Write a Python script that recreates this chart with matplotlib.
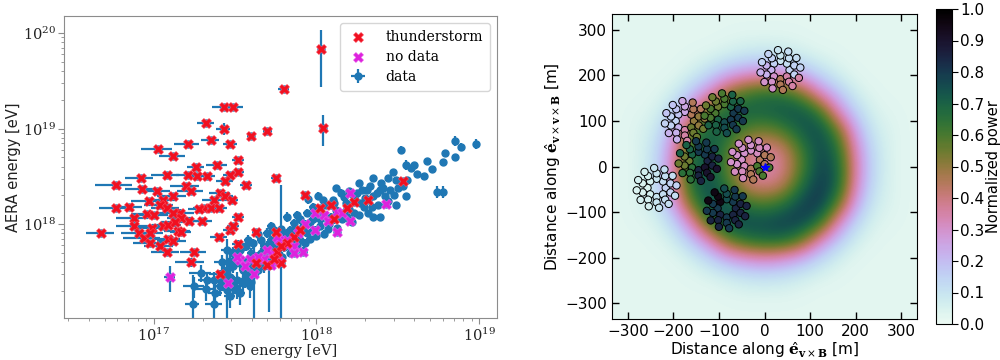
import numpy as np
import matplotlib
matplotlib.use("Agg")
import matplotlib.pyplot as plt
from matplotlib.colors import ListedColormap

plt.rcParams['mathtext.fontset'] = 'dejavuserif'

# ---------------- left panel: log10(energy / eV) ----------------
thunder_log_sd = [18.03, 17.80, 18.04, 17.43, 17.49, 17.32, 17.43, 17.35, 17.60, 17.70,
                  17.21, 17.47, 17.03, 17.12, 17.52, 17.39, 17.26, 17.52, 17.08, 16.92,
                  17.21, 17.27, 17.33, 17.47, 17.75, 17.44, 16.77, 17.57, 17.20, 16.93,
                  17.02, 17.23, 17.41, 17.93, 17.44, 17.12, 17.06, 16.97, 17.37, 17.48,
                  17.31, 17.35, 17.40, 17.04, 17.08, 16.77, 16.85, 17.16, 17.28, 17.52,
                  16.96, 17.00, 16.88, 17.12, 17.17, 17.22, 17.30, 16.88, 16.99, 17.06,
                  17.09, 17.13, 16.68, 16.91, 16.94, 16.98, 17.15, 17.17, 17.09, 17.12,
                  17.40, 17.47, 17.49, 17.63, 16.98, 17.04, 17.52, 17.08, 17.25, 17.23,
                  17.41, 17.75, 17.63, 17.70, 17.78, 18.53, 18.32, 18.23, 18.02, 18.09,
                  18.19, 18.11, 17.86, 17.82, 17.90, 17.76, 17.78, 17.74]
thunder_log_aera = [19.83, 19.41, 19.01, 19.23, 19.23, 19.06, 19.00, 18.88, 18.92, 18.98,
                    18.84, 18.84, 18.79, 18.71, 18.67, 18.62, 18.60, 18.55, 18.51, 18.48,
                    18.51, 18.50, 18.50, 18.51, 18.48, 18.45, 18.41, 18.41, 18.40, 18.37,
                    18.35, 18.35, 18.33, 18.31, 18.29, 18.29, 18.25, 18.24, 18.25, 18.25,
                    18.17, 18.17, 18.17, 18.20, 18.17, 18.17, 18.18, 18.12, 18.16, 18.08,
                    18.11, 18.10, 18.06, 18.12, 18.06, 18.03, 18.03, 17.98, 17.96, 17.98,
                    17.99, 18.02, 17.91, 17.91, 17.86, 17.91, 17.93, 17.92, 17.85, 17.82,
                    17.87, 17.94, 17.98, 17.92, 17.80, 17.77, 17.79, 17.71, 17.71, 17.60,
                    17.48, 17.92, 17.59, 17.57, 17.59, 18.45, 18.25, 18.23, 18.17, 18.20,
                    18.17, 18.05, 17.87, 17.80, 17.94, 17.71, 17.77, 17.64]
thunder_sd_relerr = [.03, .08, .03, .15, .15, .12, .10, .12, .06, .06,
                     .18, .10, .22, .18, .08, .15, .12, .08, .20, .20,
                     .15, .12, .12, .10, .06, .12, .26, .08, .20, .22,
                     .20, .18, .15, .04, .12, .20, .20, .22, .15, .10,
                     .15, .15, .12, .20, .20, .22, .20, .22, .15, .08,
                     .20, .22, .22, .20, .18, .15, .15, .22, .25, .20,
                     .20, .18, .20, .22, .25, .20, .18, .15, .18, .20,
                     .12, .10, .08, .06, .22, .20, .08, .20, .18, .20,
                     .15, .06, .06, .06, .05, .04, .04, .04, .05, .05,
                     .04, .05, .05, .05, .04, .06, .05, .06]
thunder_aera_relerr = [.60, .05, .35, .05, .05, .05, .15, .05, .05, .05,
                       .06, .06, .05, .06, .08, .06, .06, .06, .06, .06,
                       .08, .06, .06, .06, .06, .06, .05, .08, .06, .06,
                       .06, .06, .06, .06, .06, .08, .06, .06, .06, .06,
                       .08, .08, .08, .06, .06, .06, .06, .10, .06, .06,
                       .06, .06, .06, .08, .08, .08, .06, .06, .06, .06,
                       .06, .06, .05, .06, .06, .06, .08, .08, .06, .06,
                       .06, .06, .08, .08, .06, .06, .10, .06, .08, .10,
                       .10, .08, .10, .10, .10, .06, .06, .06, .08, .08,
                       .08, .10, .10, .10, .08, .10, .10, .10]

nodata_log_sd = [17.10, 17.46, 17.62, 18.43, 18.21, 18.21, 18.13, 18.13, 18.05, 17.99,
                 17.93, 17.92, 17.86, 17.82, 17.77, 17.73, 17.70, 17.68, 17.64, 17.59,
                 17.53, 17.51, 17.77, 17.76, 17.82, 17.86, 17.99, 18.16, 18.07, 17.89,
                 17.56, 17.72]
nodata_log_aera = [17.45, 17.38, 17.48, 18.21, 18.33, 18.03, 18.13, 17.92, 18.10, 17.94,
                   18.00, 17.71, 17.77, 17.84, 17.84, 17.70, 17.73, 17.64, 17.66, 17.64,
                   17.63, 17.66, 17.61, 17.87, 17.78, 17.70, 18.12, 18.12, 18.03, 17.91,
                   17.56, 17.57]
nodata_sd_relerr = [.08, .06, .06, .04, .04, .04, .04, .04, .04, .05,
                    .05, .05, .05, .05, .05, .05, .06, .06, .06, .06,
                    .06, .06, .05, .05, .05, .05, .05, .04, .04, .05,
                    .06, .05]
nodata_aera_relerr = [.30, .15, .15, .08, .10, .08, .08, .08, .08, .10,
                      .10, .10, .10, .10, .10, .10, .12, .12, .12, .12,
                      .12, .12, .10, .10, .10, .10, .08, .08, .08, .10,
                      .12, .10]

data_log_sd = [18.52, 18.85, 18.89, 18.98, 18.79, 18.85, 18.78, 18.68, 18.71, 18.62,
               18.55, 18.58, 18.56, 18.49, 18.45, 18.55, 18.49, 18.74, 18.78, 18.35,
               18.39, 18.35, 18.39, 18.31, 18.26, 18.23, 18.15, 18.10, 18.04, 18.29,
               18.35, 18.27, 18.18, 18.23, 18.16, 18.09, 18.02, 17.98, 17.98, 17.94,
               17.90, 17.86, 17.82, 17.84, 17.80, 17.74, 17.70, 17.66, 17.61, 17.57,
               17.53, 17.49, 17.53, 17.49, 17.45, 17.47, 17.51, 17.57, 17.61, 17.66,
               17.70, 17.76, 17.82, 17.86, 17.90, 17.94, 17.98, 18.02, 17.74, 17.68,
               17.64, 17.59, 17.55, 17.49, 17.51, 17.45, 17.41, 17.37, 17.29, 17.25,
               17.24, 17.37, 17.33, 17.53, 17.59, 17.45, 17.78, 17.71, 17.62, 17.45,
               18.00, 18.06, 18.12, 18.20, 18.25, 18.30, 18.40, 18.44, 18.47, 18.42,
               18.33, 17.92, 17.88, 17.78, 17.72, 17.68, 17.63, 17.58, 17.55, 17.60,
               17.96, 17.88, 18.08, 18.14, 18.20, 18.24, 17.42, 17.38, 17.32, 17.47,
               18.13, 18.05, 17.93, 17.84, 17.74, 17.67, 18.38, 18.50, 18.60, 18.66,
               17.72, 17.76, 17.80, 17.84, 17.88, 17.92, 17.96, 18.00, 18.04, 18.07,
               18.11, 18.17, 18.19, 18.22, 18.28, 18.32, 18.37, 18.41, 18.44, 18.48,
               18.53, 17.64, 17.58, 17.52, 17.56, 17.62, 17.66, 17.70, 17.73, 17.79,
               17.42, 17.47, 17.43, 17.56, 17.60, 18.01, 18.12, 17.95, 18.26, 18.34]
data_log_aera = [18.78, 18.87, 18.81, 18.84, 18.75, 18.70, 18.65, 18.66, 18.58, 18.53,
                 18.62, 18.59, 18.46, 18.46, 18.36, 18.29, 18.20, 18.34, 18.34, 18.08,
                 18.08, 18.48, 18.36, 18.36, 18.43, 18.29, 18.33, 18.25, 18.25, 18.18,
                 18.29, 18.22, 18.22, 18.12, 18.05, 18.08, 18.05, 18.05, 18.18, 18.12,
                 18.05, 18.01, 18.08, 17.94, 17.91, 17.94, 17.91, 17.84, 17.80, 17.77,
                 17.73, 17.70, 17.59, 17.56, 17.52, 17.45, 17.42, 17.49, 17.56, 17.70,
                 17.77, 17.80, 17.91, 17.84, 17.84, 17.91, 17.94, 17.98, 17.70, 17.56,
                 17.52, 17.45, 17.38, 17.35, 17.31, 17.31, 17.35, 17.42, 17.49, 17.35,
                 17.17, 17.17, 17.42, 17.28, 17.35, 17.73, 17.95, 17.60, 17.55, 17.45,
                 18.15, 18.20, 18.15, 18.35, 18.33, 18.27, 18.43, 18.48, 18.55, 18.29,
                 18.40, 17.98, 17.94, 17.86, 17.84, 17.77, 17.66, 17.63, 17.52, 17.70,
                 17.85, 17.78, 18.00, 18.12, 18.16, 18.25, 17.60, 17.28, 17.32, 17.62,
                 17.96, 17.90, 17.80, 17.70, 17.62, 17.62, 18.20, 18.38, 18.62, 18.50,
                 17.98, 17.70, 17.76, 17.82, 18.10, 17.72, 18.02, 17.88, 18.10, 17.95,
                 18.22, 18.28, 18.08, 18.02, 18.36, 18.12, 18.33, 18.38, 18.24, 18.31,
                 18.40, 17.90, 17.84, 17.66, 17.58, 17.60, 17.66, 17.66, 17.77, 17.66,
                 17.40, 17.25, 17.48, 17.43, 17.40, 18.30, 18.38, 18.26, 18.10, 18.18]
data_sd_relerr = [.04, .04, .04, .04, .03, .04, .04, .03, .03, .04,
                  .04, .04, .04, .04, .03, .03, .03, .03, .03, .03,
                  .03, .04, .04, .04, .04, .04, .04, .04, .04, .04,
                  .04, .04, .04, .04, .04, .04, .04, .05, .05, .05,
                  .05, .05, .05, .05, .05, .05, .06, .06, .06, .06,
                  .08, .08, .08, .08, .08, .08, .08, .06, .06, .06,
                  .06, .05, .05, .05, .05, .05, .05, .04, .05, .06,
                  .06, .06, .08, .08, .08, .08, .10, .12, .15, .15,
                  .10, .12, .12, .08, .08, .08, .05, .05, .06, .06,
                  .04, .04, .04, .04, .04, .04, .04, .04, .04, .04,
                  .04, .05, .05, .05, .05, .06, .06, .06, .06, .06,
                  .05, .05, .04, .04, .04, .04, .10, .10, .12, .08,
                  .04, .04, .05, .05, .05, .06, .04, .04, .04, .04,
                  .05, .05, .05, .05, .05, .05, .05, .04, .04, .04,
                  .04, .04, .04, .04, .04, .04, .04, .04, .04, .04,
                  .04, .06, .06, .08, .06, .06, .06, .06, .05, .05,
                  .10, .08, .08, .06, .06, .04, .04, .05, .04, .04]
data_aera_relerr = [.08, .12, .10, .12, .05, .06, .08, .05, .05, .05,
                    .12, .06, .06, .06, .05, .05, .05, .15, .15, .05,
                    .05, .06, .06, .06, .06, .08, .08, .08, .08, .08,
                    .06, .06, .06, .08, .08, .08, .10, .10, .10, .10,
                    .10, .10, .12, .10, .10, .10, .12, .12, .12, .12,
                    .15, .15, .15, .15, .20, .20, .20, .15, .15, .12,
                    .12, .10, .10, .10, .10, .10, .10, .10, .12, .15,
                    .15, .20, .20, .20, .20, .25, .20, .20, .20, .25,
                    .99, .50, .20, .25, .25, .30, 1.90, .70, .75, .99,
                    .10, .08, .08, .06, .06, .06, .06, .06, .06, .06,
                    .06, .10, .10, .10, .10, .12, .12, .12, .15, .12,
                    .10, .10, .08, .08, .08, .08, .20, .30, .25, .20,
                    .08, .10, .10, .10, .12, .12, .06, .06, .06, .06,
                    .10, .10, .10, .10, .10, .10, .10, .10, .08, .08,
                    .08, .08, .08, .08, .06, .06, .06, .06, .06, .06,
                    .06, .12, .12, .15, .15, .12, .12, .12, .10, .12,
                    .20, .25, .20, .20, .20, .10, .08, .10, .06, .06]

# ---------------- right panel: normalized power map (40 m grid, rows from y=+320 down to y=-320) ----------------
grid_coord = [-320, -280, -240, -200, -160, -120, -80, -40, 0, 40, 80, 120, 160, 200, 240, 280, 320]
power_grid = [
    [.02, .02, .02, .02, .02, .02, .02, .02, .02, .02, .02, .02, .02, .02, .02, .02, .02],
    [.02, .02, .02, .02, .02, .02, .03, .04, .04, .04, .03, .02, .02, .02, .02, .02, .02],
    [.02, .02, .02, .02, .03, .05, .08, .11, .12, .11, .08, .05, .03, .02, .02, .02, .02],
    [.02, .02, .02, .03, .07, .15, .25, .31, .34, .31, .25, .15, .07, .03, .02, .02, .02],
    [.02, .02, .03, .07, .19, .33, .52, .62, .66, .65, .55, .34, .19, .07, .03, .02, .02],
    [.02, .03, .05, .15, .34, .60, .71, .71, .71, .74, .75, .64, .34, .15, .05, .03, .02],
    [.02, .04, .08, .25, .55, .72, .69, .58, .54, .60, .72, .77, .57, .25, .08, .04, .02],
    [.02, .04, .11, .31, .66, .74, .60, .41, .37, .41, .61, .77, .68, .32, .11, .04, .02],
    [.02, .04, .12, .34, .70, .75, .56, .37, .33, .37, .57, .78, .72, .35, .12, .04, .02],
    [.02, .04, .11, .32, .68, .76, .62, .42, .38, .43, .65, .81, .72, .33, .11, .04, .02],
    [.02, .04, .08, .26, .57, .76, .74, .62, .58, .64, .77, .82, .60, .26, .08, .04, .02],
    [.02, .03, .05, .15, .35, .65, .77, .77, .76, .79, .80, .68, .36, .15, .05, .03, .02],
    [.02, .02, .03, .07, .19, .35, .57, .67, .70, .70, .59, .36, .19, .07, .03, .02, .02],
    [.02, .02, .02, .03, .07, .15, .25, .31, .34, .31, .25, .15, .07, .03, .02, .02, .02],
    [.02, .02, .02, .02, .03, .05, .08, .11, .12, .11, .08, .05, .03, .02, .02, .02, .02],
    [.02, .02, .02, .02, .02, .02, .03, .04, .04, .04, .03, .02, .02, .02, .02, .02, .02],
    [.02, .02, .02, .02, .02, .02, .02, .02, .02, .02, .02, .02, .02, .02, .02, .02, .02],
]

# station clusters: centre positions [m] and measured power per direction sector
cluster_x = [35, -175, -88, -145, -30, -237, -83]
cluster_y = [212, 100, 117, 12, 15, -47, -92]
# sectors: E, NE, N, NW, W, SW, S, SE
cluster_power = [
    [0.15, 0.12, 0.10, 0.15, 0.22, 0.30, 0.45, 0.35],
    [0.50, 0.45, 0.25, 0.18, 0.15, 0.22, 0.35, 0.55],
    [0.80, 0.70, 0.60, 0.55, 0.60, 0.70, 0.75, 0.80],
    [0.85, 0.80, 0.80, 0.70, 0.55, 0.65, 0.85, 0.90],
    [0.45, 0.32, 0.30, 0.30, 0.30, 0.32, 0.45, 0.60],
    [0.15, 0.12, 0.10, 0.06, 0.05, 0.06, 0.10, 0.12],
    [0.85, 0.80, 0.75, 0.95, 0.80, 0.85, 0.80, 0.85],
]
ring_radii = [20, 32, 44]
ring_counts = [8, 10, 12]
ring_phase = [0, 18, 7]

# ---------------- figure ----------------
fig = plt.figure(figsize=(10, 3.6), dpi=100)

# ===== left panel =====
ax1 = fig.add_axes([0.064, 0.117, 0.433, 0.839])
blue = '#1f77b4'

all_sd = 10 ** np.array(data_log_sd + thunder_log_sd + nodata_log_sd)
all_aera = 10 ** np.array(data_log_aera + thunder_log_aera + nodata_log_aera)
all_sd_rel = np.array(data_sd_relerr + thunder_sd_relerr + nodata_sd_relerr)
all_aera_rel = np.array(data_aera_relerr + thunder_aera_relerr + nodata_aera_relerr)
xerr = np.vstack([all_sd * np.minimum(all_sd_rel, 0.99), all_sd * all_sd_rel])
yerr = np.vstack([all_aera * np.minimum(all_aera_rel, 0.99), all_aera * all_aera_rel])

ax1.set_xscale('log')
ax1.set_yscale('log')
eb = ax1.errorbar(all_sd, all_aera, xerr=xerr, yerr=yerr, fmt='o', color=blue,
                  ms=5, elinewidth=1.6, capsize=0, zorder=2, label='data')
sc1 = ax1.scatter(10 ** np.array(thunder_log_sd), 10 ** np.array(thunder_log_aera),
                  marker='X', s=55, color='#f01020', linewidths=0.3, edgecolors='#ff6070',
                  zorder=4, label='thunderstorm')
sc2 = ax1.scatter(10 ** np.array(nodata_log_sd), 10 ** np.array(nodata_log_aera),
                  marker='X', s=55, color='#dd22dd', linewidths=0.3, edgecolors='#f070f0',
                  zorder=3, label='no data')

ax1.set_xlim(10 ** 16.45, 10 ** 19.11)
ax1.set_ylim(10 ** 17.02, 10 ** 20.18)
for sp in ax1.spines.values():
    sp.set_color('#8c8c8c')
ax1.tick_params(which='both', direction='out', colors='#8c8c8c', labelcolor='#222222')
ax1.tick_params(which='major', length=4, labelsize=10.5, pad=2)
ax1.tick_params(which='minor', length=2)
for lab in ax1.get_xticklabels() + ax1.get_yticklabels():
    lab.set_family('DejaVu Serif')
ax1.set_xlabel('SD energy [eV]', family='DejaVu Serif', fontsize=10.5, color='#222222', labelpad=0)
ax1.set_ylabel('AERA energy [eV]', fontsize=10.5, color='#222222', labelpad=1)
leg = ax1.legend(handles=[sc1, sc2, eb], loc='upper right', prop={'family': 'DejaVu Serif', 'size': 10},
                 frameon=True, fancybox=True, borderpad=0.5, labelspacing=0.45, handletextpad=1.2,
                 handlelength=1.6, borderaxespad=0.5)
leg.get_frame().set_edgecolor('#cccccc')

# ===== right panel =====
cmap = ListedColormap(plt.cm.cubehelix(np.linspace(0.96, 0.0, 256)))
ax2 = fig.add_axes([0.612, 0.114, 0.305, 0.847])
step = grid_coord[1] - grid_coord[0]
ext = [grid_coord[0] - step / 2, grid_coord[-1] + step / 2,
       grid_coord[0] - step / 2, grid_coord[-1] + step / 2]
im = ax2.imshow(np.array(power_grid), cmap=cmap, vmin=0, vmax=1, extent=ext, origin='upper',
                interpolation='bicubic', interpolation_stage='data')

st_x, st_y, st_v = [], [], []
for cx, cy, pw in zip(cluster_x, cluster_y, cluster_power):
    for r, n, ph in zip(ring_radii, ring_counts, ring_phase):
        ang = np.deg2rad(ph + 360.0 / n * np.arange(n))
        for a in ang:
            st_x.append(cx + r * np.cos(a))
            st_y.append(cy + r * np.sin(a))
            sector = int(np.round(np.rad2deg(a) / 45.0)) % 8
            st_v.append(pw[sector])
ax2.scatter(st_x, st_y, c=st_v, cmap=cmap, vmin=0, vmax=1, s=28, edgecolors='black',
            linewidths=0.7, zorder=3)
ax2.plot([0], [0], marker='*', color='blue', ms=6, zorder=4, linestyle='none')

ax2.set_xlim(-335, 335)
ax2.set_ylim(-335, 335)
ax2.set_aspect('auto')
ax2.set_xticks([-300, -200, -100, 0, 100, 200, 300])
ax2.set_yticks([-300, -200, -100, 0, 100, 200, 300])
ax2.tick_params(direction='in', top=True, right=True, length=5, width=1, labelsize=11)
ax2.set_xlabel(r'Distance along $\hat{\mathbf{e}}_{\mathbf{v}\times\mathbf{B}}$ [m]', fontsize=11, labelpad=1)
ax2.set_ylabel(r'Distance along $\hat{\mathbf{e}}_{\mathbf{v}\times\mathbf{v}\times\mathbf{B}}$ [m]', fontsize=11, labelpad=2)

cax = fig.add_axes([0.936, 0.10, 0.016, 0.875])
cb = fig.colorbar(im, cax=cax, ticks=np.round(np.arange(0, 1.01, 0.1), 1))
cb.ax.set_yticklabels(['%.1f' % t for t in np.arange(0, 1.01, 0.1)])
cb.ax.tick_params(labelsize=11, length=4, pad=2)
cb.set_label('Normalized power', fontsize=10.5, labelpad=1)

fig.savefig('out.png', dpi=100)
